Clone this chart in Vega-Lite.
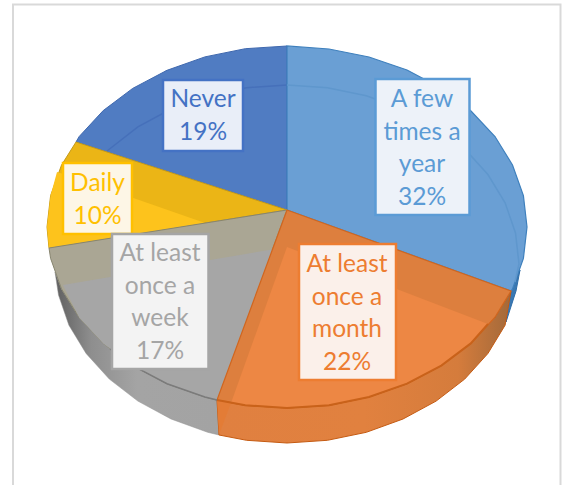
{"$schema":"https://vega.github.io/schema/vega-lite/v6.json","width":564,"height":485,"padding":0,"autosize":{"type":"none"},"background":"white","view":{"stroke":null},
"datasets":{
"frame":[{"x":13,"x2":560.5,"y":4.5,"y2":500}],
"rimBlue":[{"x":520,"y":270},{"x":516,"y":291},{"x":506,"y":322},{"x":511,"y":291},{"x":512.5,"y":288.9},{"x":520,"y":270}],
"rimGray":[{"x":55,"y":272},{"x":61.5,"y":288.9},{"x":79.2,"y":317.5},{"x":103.2,"y":343.4},{"x":132.7,"y":365.6},{"x":167,"y":383.7},{"x":204.9,"y":397},{"x":217,"y":400},{"x":219,"y":435},{"x":207.7,"y":432.3},{"x":171,"y":419},{"x":137.9,"y":401.1},{"x":109.3,"y":379.1},{"x":86.1,"y":353.5},{"x":68.9,"y":325.2},{"x":58.5,"y":295.1},{"x":55,"y":272}],
"rimOrange":[{"x":511,"y":291},{"x":494.8,"y":317.5},{"x":470.8,"y":343.4},{"x":441.3,"y":365.6},{"x":407,"y":383.7},{"x":369,"y":397},{"x":329,"y":405.3},{"x":287,"y":408},{"x":245.3,"y":405.3},{"x":217,"y":400},{"x":219,"y":435},{"x":246.6,"y":440.3},{"x":287,"y":443},{"x":327.4,"y":440.3},{"x":366.3,"y":432.3},{"x":403,"y":419},{"x":436.1,"y":401.1},{"x":464.7,"y":379.1},{"x":487.9,"y":353.5},{"x":505.1,"y":325.2},{"x":511,"y":291}],
"topNavy":[{"x":287,"y":210},{"x":76,"y":142},{"x":79.2,"y":136.5},{"x":103.2,"y":110.6},{"x":132.7,"y":88.4},{"x":167,"y":70.3},{"x":204.9,"y":56.9},{"x":245.3,"y":48.7},{"x":287,"y":46},{"x":287,"y":210}],
"topBlue":[{"x":287,"y":210},{"x":287,"y":46},{"x":329,"y":49},{"x":369,"y":57},{"x":407,"y":70},{"x":441,"y":88},{"x":471,"y":111},{"x":495,"y":136.5},{"x":512.5,"y":165},{"x":523.4,"y":195.6},{"x":527,"y":227},{"x":523.4,"y":258.4},{"x":512.5,"y":288.9},{"x":511,"y":291},{"x":287,"y":210}],
"topYellow":[{"x":287,"y":210},{"x":49,"y":248},{"x":47,"y":227},{"x":50.6,"y":195.6},{"x":61.5,"y":165.1},{"x":76,"y":142},{"x":287,"y":210}],
"lightYellow":[{"x":205,"y":223},{"x":76,"y":178},{"x":57,"y":172},{"x":50.6,"y":195.6},{"x":47,"y":227},{"x":49,"y":248},{"x":205,"y":223}],
"topGray":[{"x":287,"y":210},{"x":217,"y":400},{"x":204.9,"y":397},{"x":167,"y":383.7},{"x":132.7,"y":365.6},{"x":103.2,"y":343.4},{"x":79.2,"y":317.5},{"x":61.5,"y":288.9},{"x":50.6,"y":258.4},{"x":49,"y":248},{"x":287,"y":210}],
"lightGray":[{"x":287,"y":247},{"x":63,"y":285},{"x":79.2,"y":317.5},{"x":103.2,"y":343.4},{"x":132.7,"y":365.6},{"x":167,"y":383.7},{"x":204.9,"y":397},{"x":217,"y":400},{"x":287,"y":247}],
"topOrange":[{"x":287,"y":210},{"x":511,"y":291},{"x":494.8,"y":317.5},{"x":470.8,"y":343.4},{"x":441.3,"y":365.6},{"x":407,"y":383.7},{"x":369,"y":397},{"x":329,"y":405.3},{"x":287,"y":408},{"x":245.3,"y":405.3},{"x":217,"y":400},{"x":287,"y":210}],
"lightOrange":[{"x":287,"y":247},{"x":488,"y":324},{"x":470.8,"y":343.4},{"x":441.3,"y":365.6},{"x":407,"y":383.7},{"x":369,"y":397},{"x":329,"y":405.3},{"x":287,"y":408},{"x":245.3,"y":405.3},{"x":231,"y":403},{"x":287,"y":247}],
"edgeOrange":[{"x":217,"y":400},{"x":231,"y":403},{"x":219,"y":435},{"x":217,"y":400}],
"arcNavy":[{"x":107,"y":151},{"x":137.9,"y":126.9},{"x":171,"y":109},{"x":207.7,"y":95.7},{"x":246.6,"y":87.7},{"x":287,"y":85}],
"arcBlue":[{"x":287,"y":85},{"x":327.4,"y":87.7},{"x":366.3,"y":95.7},{"x":403,"y":109},{"x":436.1,"y":126.9},{"x":464.7,"y":148.9},{"x":487.9,"y":174.5},{"x":505.1,"y":202.8},{"x":515.5,"y":232.9},{"x":519,"y":264},{"x":515,"y":282}],
"arcOrange":[{"x":488,"y":324},{"x":470.8,"y":343.4},{"x":441.3,"y":365.6},{"x":407,"y":383.7},{"x":369,"y":397},{"x":329,"y":405.3},{"x":287,"y":408},{"x":245.3,"y":405.3},{"x":217,"y":400}],
"arcGray":[{"x":217,"y":400},{"x":204.9,"y":397},{"x":167,"y":383.7},{"x":132.7,"y":365.6},{"x":110,"y":349}],
"labels":[
{"slice":"Never","share":19,"label":["Never","19%"],"x":203,"y":107,"x1":163,"x2":243,"y1":80,"y2":151},
{"slice":"Daily","share":10,"label":["Daily","10%"],"x":97.5,"y":191,"x1":63,"x2":132,"y1":163,"y2":234},
{"slice":"A few times a year","share":32,"label":["A few","times a","year","32%"],"x":422,"y":107,"x1":375.5,"x2":469.5,"y1":79,"y2":215},
{"slice":"At least once a month","share":22,"label":["At least","once a","month","22%"],"x":347,"y":272,"x1":299,"x2":396,"y1":244,"y2":380},
{"slice":"At least once a week","share":17,"label":["At least","once a","week","17%"],"x":160,"y":261,"x1":112,"x2":208.5,"y1":234,"y2":369}
]},
"encoding":{"x":{"field":"x","type":"quantitative","axis":null,"scale":{"domain":[0,564],"range":[0,564],"nice":false,"zero":false}},"y":{"field":"y","type":"quantitative","axis":null,"scale":{"domain":[0,485],"range":[0,485],"nice":false,"zero":false}},"order":{"value":null}},
"layer":[
{"data":{"name":"frame"},"mark":{"type":"rect","fill":"white","stroke":"#d9d9d9","strokeWidth":2},"encoding":{"x2":{"field":"x2"},"y2":{"field":"y2"}}},
{"data":{"name":"rimBlue"},"mark":{"type":"line","fill":"#3a78b2","stroke":"#2e6ca8","strokeWidth":1}},
{"data":{"name":"rimGray"},"mark":{"type":"line","stroke":"#8d8d8d","strokeWidth":0.5,"fill":{"gradient":"linear","x1":0,"y1":0,"x2":1,"y2":0,"stops":[{"offset":0,"color":"#5f5f5f"},{"offset":0.22,"color":"#8e8e8e"},{"offset":0.5,"color":"#a4a4a4"},{"offset":1,"color":"#a3a3a3"}]}}},
{"data":{"name":"rimOrange"},"mark":{"type":"line","stroke":"#c55a11","strokeWidth":1,"fill":{"gradient":"linear","x1":0,"y1":0,"x2":1,"y2":0,"stops":[{"offset":0,"color":"#e08040"},{"offset":0.5,"color":"#e1813f"},{"offset":0.82,"color":"#d57c3c"},{"offset":1,"color":"#a2693a"}]}}},
{"data":{"name":"topNavy"},"mark":{"type":"line","fill":"#507cc2","stroke":"#3f68ae","strokeWidth":1}},
{"data":{"name":"arcNavy"},"mark":{"type":"line","stroke":"#4670ba","strokeWidth":1.5}},
{"data":{"name":"topBlue"},"mark":{"type":"line","fill":"#6a9fd4","stroke":"#3f80bd","strokeWidth":1.2}},
{"data":{"name":"arcBlue"},"mark":{"type":"line","stroke":"#5f97cd","strokeWidth":1.5}},
{"data":{"name":"topYellow"},"mark":{"type":"line","fill":"#ebb516","stroke":"#c49a1a","strokeWidth":1}},
{"data":{"name":"lightYellow"},"mark":{"type":"line","fill":"#fdc31c","strokeWidth":0,"strokeOpacity":0}},
{"data":{"name":"topGray"},"mark":{"type":"line","fill":"#aaa694","stroke":"#87856f","strokeWidth":1}},
{"data":{"name":"lightGray"},"mark":{"type":"line","fill":"#a6a6a6","strokeWidth":0,"strokeOpacity":0}},
{"data":{"name":"topOrange"},"mark":{"type":"line","fill":"#dd7f3e","stroke":"#d0661f","strokeWidth":1.2}},
{"data":{"name":"lightOrange"},"mark":{"type":"line","fill":"#ed8744","strokeWidth":0,"strokeOpacity":0}},
{"data":{"name":"edgeOrange"},"mark":{"type":"line","fill":"#e37c36","strokeWidth":0,"strokeOpacity":0}},
{"data":{"name":"arcOrange"},"mark":{"type":"line","stroke":"#c9621a","strokeWidth":2}},
{"data":{"name":"arcGray"},"mark":{"type":"line","stroke":"#7b7b7b","strokeWidth":1.5}},
{"data":{"name":"labels"},"mark":{"type":"rect","fill":"#000000","opacity":0.1,"xOffset":4,"yOffset":4},"encoding":{"x":{"field":"x1"},"x2":{"field":"x2"},"y":{"field":"y1"},"y2":{"field":"y2"}}},
{"data":{"name":"labels"},"mark":{"type":"rect","strokeWidth":2.5},"encoding":{"x":{"field":"x1"},"x2":{"field":"x2"},"y":{"field":"y1"},"y2":{"field":"y2"},
"fill":{"field":"slice","type":"nominal","legend":null,"scale":{"domain":["Never","Daily","A few times a year","At least once a month","At least once a week"],"range":["#e9eef8","#fdf6e6","#edf2f9","#fbf0ea","#f3f3f3"]}},
"stroke":{"field":"slice","type":"nominal","legend":null,"scale":{"domain":["Never","Daily","A few times a year","At least once a month","At least once a week"],"range":["#4472c4","#ffc000","#5b9bd5","#ed7d31","#a5a5a5"]}}}},
{"data":{"name":"labels"},"mark":{"type":"text","font":"Lato","fontSize":24.5,"align":"center","baseline":"alphabetic","lineHeight":32.5},"encoding":{"text":{"field":"label"},
"color":{"field":"slice","type":"nominal","legend":null,"scale":{"domain":["Never","Daily","A few times a year","At least once a month","At least once a week"],"range":["#4472c4","#ffc000","#5b9bd5","#ed7d31","#a5a5a5"]}}}}
]}
